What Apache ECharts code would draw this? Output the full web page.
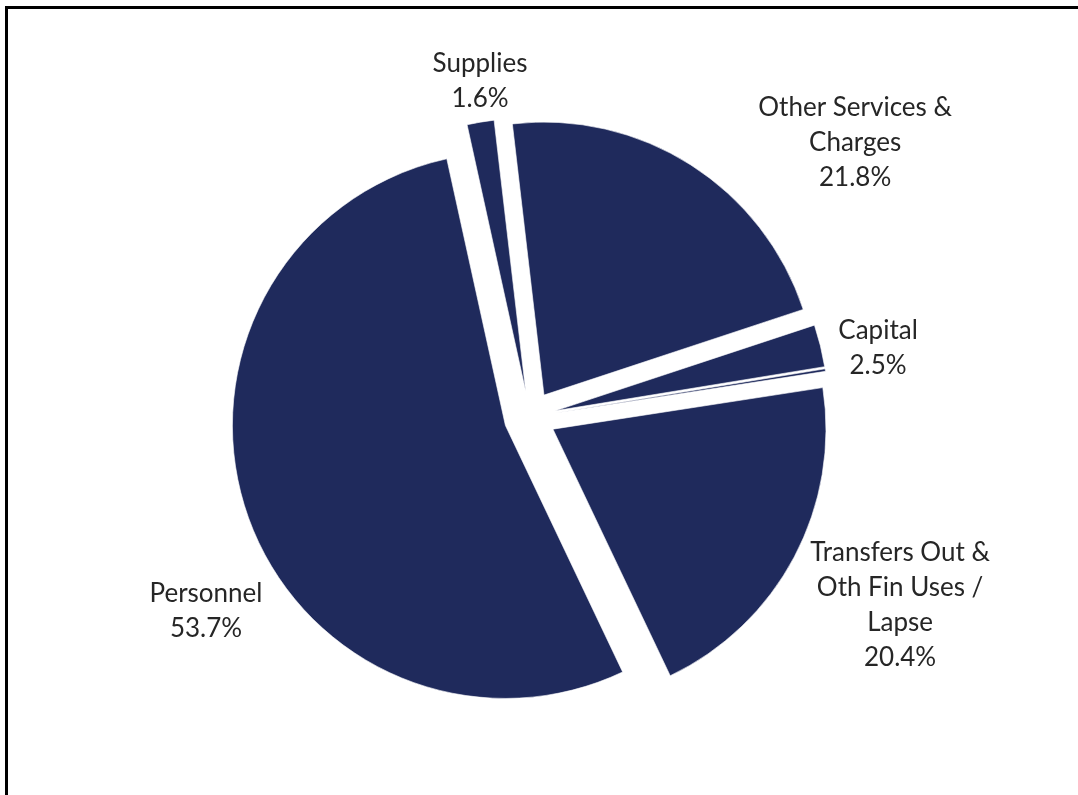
<!DOCTYPE html>
<html>
<head>
<meta charset="utf-8">
<script src="https://cdn.jsdelivr.net/npm/echarts@6/dist/echarts.min.js"></script>
<style>
html,body{margin:0;padding:0;background:#fff;}
#chart{width:1078px;height:795px;}
</style>
</head>
<body>
<div id="chart"></div>
<script>
// ---- data ----
const categories = ['Supplies', 'Other Services &\nCharges', 'Capital', '', 'Transfers Out &\nOth Fin Uses /\nLapse', 'Personnel'];
const values = [1.6, 21.8, 2.5, 0.15, 20.4, 53.7];
const showLabel = [true, true, true, false, true, true];

// ---- style / layout ----
const NAVY = '#1F2A5C';
const CX = 530, CY = 417, R = 273, OFFSET = 26;
// label anchor: angle (deg clockwise from north) and distance from pie centre
const labelAngle = [-8.45, 49.8, 78.8, 0, 116.9, 239.1];
const labelDist = [340, 425.7, 354.8, 0, 415, 377.6];

const chart = echarts.init(document.getElementById('chart'), null, {renderer: 'canvas'});

const data = categories.map((c, i) => ({
  name: c,
  value: values[i],
  selected: true
}));

const labelGraphics = [];
categories.forEach((c, i) => {
  if (!showLabel[i]) return;
  const a = labelAngle[i] * Math.PI / 180;
  labelGraphics.push({
    type: 'text',
    silent: true,
    x: CX + labelDist[i] * Math.sin(a),
    y: CY - labelDist[i] * Math.cos(a),
    style: {
      text: c + '\n' + values[i].toFixed(1) + '%',
      fontFamily: 'Lato',
      fontSize: 26,
      lineHeight: 35,
      fill: '#262626',
      align: 'center',
      verticalAlign: 'middle'
    }
  });
});

chart.setOption({
  animation: false,
  backgroundColor: '#fff',
  graphic: [{
    type: 'rect',
    shape: {x: 6.5, y: 7.5, width: 1200, height: 900},
    style: {fill: 'none', stroke: '#000', lineWidth: 3},
    silent: true
  }].concat(labelGraphics),
  series: [{
    type: 'pie',
    center: [CX, CY],
    radius: R,
    startAngle: 102.4,
    clockwise: true,
    selectedMode: 'multiple',
    selectedOffset: OFFSET,
    avoidLabelOverlap: false,
    itemStyle: {color: NAVY, borderColor: '#fff', borderWidth: 0.6},
    select: {itemStyle: {color: NAVY, borderColor: '#fff', borderWidth: 0.6}},
    emphasis: {disabled: true},
    label: {show: false},
    labelLine: {show: false},
    data: data
  }]
});
</script>
</body>
</html>
